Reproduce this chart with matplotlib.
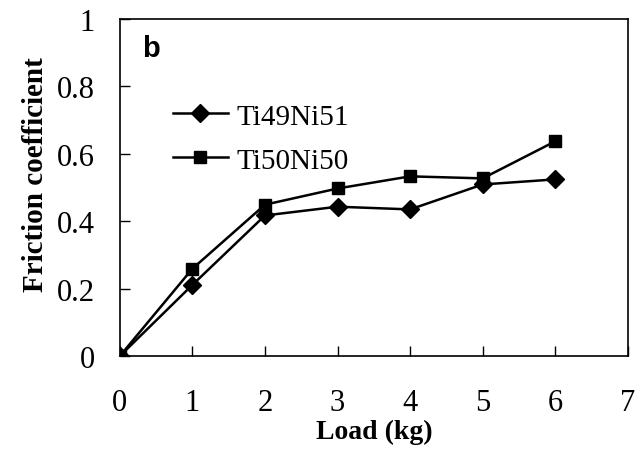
import matplotlib.pyplot as plt

plt.rcParams['font.family'] = ['Liberation Serif', 'DejaVu Serif']

load = [0, 1, 2, 3, 4, 5, 6]
ti49ni51 = [0, 0.211, 0.417, 0.443, 0.435, 0.509, 0.524]
ti50ni50 = [0, 0.259, 0.449, 0.497, 0.533, 0.527, 0.637]

fig = plt.figure(figsize=(6.44, 4.52), dpi=100)
ax = fig.add_axes([0.186, 0.21, 0.789, 0.746])

ax.plot(load, ti49ni51, 'k-', marker='D', markersize=9.5, linewidth=1.8, label='Ti49Ni51')
ax.plot(load, ti50ni50, 'k-', marker='s', markersize=9, linewidth=1.8, label='Ti50Ni50')

ax.set_xlim(0, 7)
ax.set_ylim(0, 1)
ax.set_xticks(range(8))
ax.set_yticks([0, 0.2, 0.4, 0.6, 0.8, 1])
ax.set_yticklabels(['0', '0.2', '0.4', '0.6', '0.8', '1'])
ax.tick_params(direction='in', length=7, width=1, labelsize=22)
ax.tick_params(axis='y', pad=18)
ax.tick_params(axis='x', pad=23)
for s in ax.spines.values():
    s.set_linewidth(1.2)

ax.set_xlabel('Load (kg)', fontsize=20, fontweight='bold')
ax.set_ylabel('Friction coefficient', fontsize=21, fontweight='bold')
ax.xaxis.set_label_coords(0.5, -0.185)
ax.yaxis.set_label_coords(-0.14, 0.54)

ax.text(0.043, 0.914, 'b', transform=ax.transAxes, fontsize=21, fontweight='bold',
        family='Liberation Sans', va='center', ha='left')

ax.legend(loc='upper left', bbox_to_anchor=(0.104, 0.75), frameon=False, fontsize=21,
          borderpad=0, borderaxespad=0, handlelength=1.9, handletextpad=0.3,
          labelspacing=0.6)

fig.savefig('out.png', dpi=100)
